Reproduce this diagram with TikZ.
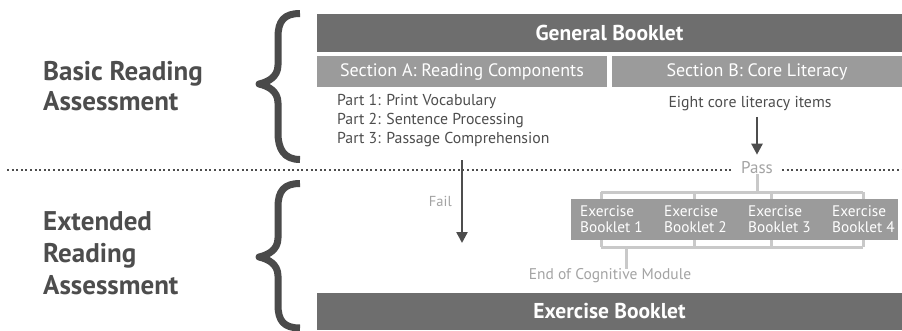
\documentclass[tikz,border=0pt]{standalone}
\usepackage{fontspec}
\setmainfont{PT Sans}
\usepackage{xcolor}
\usepackage{tikz}
\usetikzlibrary{arrows.meta}
\definecolor{bardark}{HTML}{6E6E6E}
\definecolor{barlight}{HTML}{9B9B9B}
\definecolor{ink}{HTML}{4D4D4D}
\definecolor{bracecol}{HTML}{4A4A4A}
\definecolor{faint}{HTML}{A3A3A3}
\definecolor{rulecol}{HTML}{C9C9C9}
\tikzset{
  bigbar/.style={fill=bardark, text=white, inner sep=0pt, font=\fontsize{21.5}{24}\selectfont\bfseries},
  secbar/.style={fill=barlight, text=white, inner sep=0pt, font=\fontsize{18}{20}\selectfont},
  body/.style={text=ink, font=\fontsize{15.8}{19}\selectfont, inner sep=0pt, align=left},
  faintlbl/.style={text=faint, font=\fontsize{15.5}{19}\selectfont, inner sep=0pt},
  heading/.style={text=ink, font=\bfseries, align=left, inner sep=0pt, anchor=north west},
  bracestroke/.style={draw=bracecol, line width=7pt, line join=round},
  flow/.style={draw=ink, line width=2.4pt, -{Triangle[length=11pt,width=11pt]}},
  divider/.style={draw=ink, line width=2pt, dash pattern=on 2pt off 2.6pt},
  bracket/.style={draw=rulecol, line width=3pt},
  booklet/.style={text=white, font=\fontsize{15.3}{16}\selectfont, align=left, inner sep=0pt, anchor=west}
}

\begin{document}
\begin{tikzpicture}[x=1pt, y=-1pt]
  \useasboundingbox (0,0) rectangle (902,330);

  % headings and braces
  \node[heading, font=\fontsize{27}{30}\selectfont\bfseries] (basic) at (43,61) {Basic Reading\\Assessment};
  \node[heading, font=\fontsize{27}{32}\selectfont\bfseries] (extended) at (43,211) {Extended\\Reading\\Assessment};

  \draw[bracestroke] (300,13.5) .. controls (284,13.5) and (278,21) .. (278,37) -- (278,65)
    .. controls (278,77) and (268,82) .. (259,84) .. controls (268,86) and (278,91) .. (278,103)
    -- (278,133) .. controls (278,149) and (284,159.5) .. (300,159.5);
  \draw[bracestroke] (300,183.5) .. controls (284,183.5) and (278,191) .. (278,207) -- (278,238)
    .. controls (278,250) and (268,255) .. (259,257) .. controls (268,259) and (278,264) .. (278,276)
    -- (278,305) .. controls (278,321) and (284,328) .. (300,328);

  % booklets and sections
  \node[bigbar, minimum width=585pt, minimum height=38pt] (general) at (609.5,33) {General Booklet};
  \node[secbar, minimum width=290pt, minimum height=31pt] (secA) at (462,71.5) {Section A: Reading Components};
  \node[secbar, minimum width=290pt, minimum height=31pt] (secB) at (757,71.5) {Section B: Core Literacy};
  \node[bigbar, minimum width=585pt, minimum height=37pt] (exercise) at (609.5,311.5) {Exercise Booklet};

  \node[body, anchor=north west] (parts) at (337,94.5)
    {Part 1: Print Vocabulary\\Part 2: Sentence Processing\\Part 3: Passage Comprehension};
  \node[body] (eight) at (750,103.5) {Eight core literacy items};

  % pass / fail split
  \coordinate (lineL) at (7,170);
  \coordinate (lineR) at (902,170);
  \node[faintlbl, inner xsep=9pt, font=\fontsize{17}{19}\selectfont] (pass) at (757,168) {Pass};
  \draw[divider] (lineL) -- (lineL -| pass.west);
  \draw[divider] (lineR -| pass.east) -- (lineR);
  \draw[flow, shorten <=6pt, shorten >=7pt] (eight.south -| pass.north) -- (pass.north);

  \coordinate (failtop) at (462,160);
  \coordinate (failend) at (462,243);
  \draw[flow] (failtop) -- (failend) node[faintlbl, font=\fontsize{14.5}{19}\selectfont, midway, left=9pt] (fail) {Fail};

  % exercise booklets 1-4
  \node[fill=barlight, minimum width=327pt, minimum height=41pt, inner sep=0pt] (bookbar) at (734.5,219.5) {};
  \node[booklet] (b1) at (580,219.5) {Exercise\\Booklet 1};
  \node[booklet] (b2) at (664,219.5) {Exercise\\Booklet 2};
  \node[booklet] (b3) at (748,219.5) {Exercise\\Booklet 3};
  \node[booklet] (b4) at (832,219.5) {Exercise\\Booklet 4};

  \coordinate (topL) at (601,192);
  \coordinate (topR) at (863,192);
  \coordinate (botL) at (601,247);
  \coordinate (botR) at (863,247);
  \draw[bracket] (topL) -- (topR);
  \draw[bracket] (botL) -- (botR);
  \draw[bracket] (pass.south) -- (pass.south |- topL);
  \foreach \tx in {601,694,771,863} {
    \draw[bracket] (\tx,192) -- (\tx,199);
    \draw[bracket] (\tx,240) -- (\tx,247);
  }

  \node[faintlbl] (endcog) at (610,276) {End of Cognitive Module};
  \draw[bracket] (626,247) -- (endcog.north -| 626,0);
\end{tikzpicture}
\end{document}
